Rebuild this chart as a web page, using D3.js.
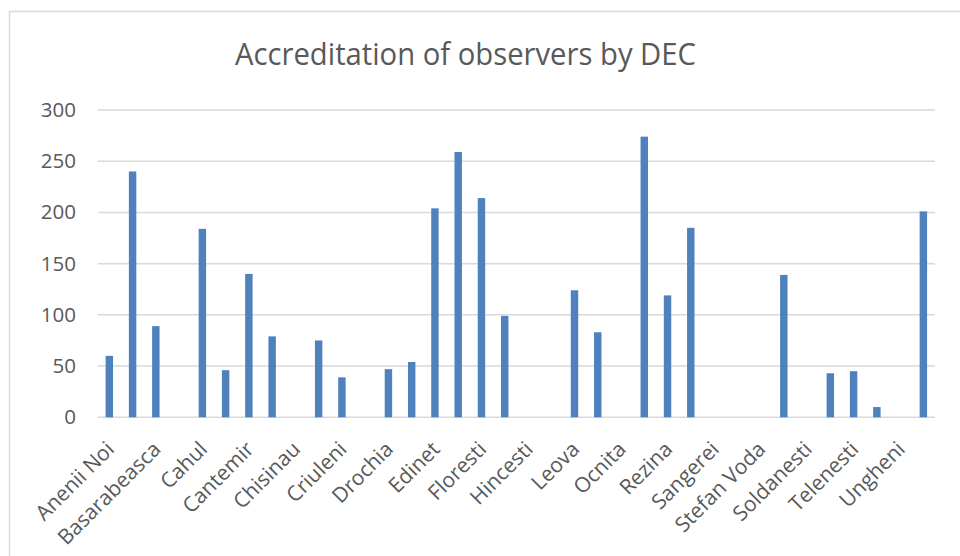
<!DOCTYPE html>
<html>
<head>
<meta charset="utf-8">
<script src="https://cdn.jsdelivr.net/npm/d3@7"></script>
<style>
  body { margin: 0; background: #fff; }
  svg { display: block; font-family: "Open Sans", "Noto Sans", sans-serif; }
</style>
</head>
<body>
<svg id="chart" width="960" height="556"></svg>
<script>

var districts = ["Anenii Noi", "Balti", "Basarabeasca", "Briceni", "Cahul", "Calarasi", "Cantemir", "Causeni",
                 "Chisinau", "Cimislia", "Criuleni", "Donduseni", "Drochia", "Dubasari", "Edinet", "Falesti",
                 "Floresti", "Glodeni", "Hincesti", "Ialoveni", "Leova", "Nisporeni", "Ocnita", "Orhei",
                 "Rezina", "Riscani", "Sangerei", "Soroca", "Stefan Voda", "Straseni", "Soldanesti", "Taraclia",
                 "Telenesti", "Tighina", "Ungheni", "UTA Gagauzia"]

var observers = [60, 240, 89, 0, 184, 46, 140, 79,
                 0, 75, 39, 0, 47, 54, 204, 259,
                 214, 99, 0, 0, 124, 83, 0, 274,
                 119, 185, 0, 0, 0, 139, 0, 43,
                 45, 10, 0, 201]

var yTicks = [0, 50, 100, 150, 200, 250, 300]

// every second district gets a label, like the original
var shownLabels = districts.filter(function(d, i) { return i % 2 == 0 })

var svg = d3.select('#chart')

// outer chart frame (runs off the window on the right and bottom)
svg.append("rect")
        .attr("x", 9.5)
        .attr("y", 11.5)
        .attr("width", 980)
        .attr("height", 600)
        .attr("fill", "#fff")
        .attr("stroke", "#d9d9d9")
        .attr("stroke-width", 1.5)

svg.append("text")
        .attr("x", 465.5)
        .attr("y", 65)
        .attr("text-anchor", "middle")
        .attr("font-size", "31px")
        .attr("fill", "#595959")
        .attr("textLength", 461)
        .attr("lengthAdjust", "spacingAndGlyphs")
        .text("Accreditation of observers by DEC")

var x = d3.scaleBand()
        .domain(districts)
        .range([97.7, 935])
        .paddingInner(0.68)
        .paddingOuter(0.34)

var y = d3.scaleLinear()
        .domain([0, 300])
        .range([417.3, 110])

var grid = svg.append("g")

grid.selectAll("line")
        .data(yTicks)
        .enter().append("line")
        .attr("x1", 97.7)
        .attr("x2", 935)
        .attr("y1", function(d) { return y(d) })
        .attr("y2", function(d) { return y(d) })
        .attr("stroke", "#d9d9d9")
        .attr("stroke-width", 1.5)

var yAxis = svg.append("g")
        .attr("transform", "translate(76, 0)")
        .call(d3.axisLeft(y).tickValues(yTicks).tickSize(0).tickPadding(0))

yAxis.select(".domain").remove()
yAxis.selectAll("text")
        .attr("font-size", "20.5px")
        .attr("font-family", "Open Sans")
        .attr("fill", "#595959")

svg.append("g")
        .selectAll("rect")
        .data(observers)
        .enter().append("rect")
        .attr("x", function(d, i) { return x(districts[i]) })
        .attr("width", x.bandwidth())
        .attr("y", function(d) { return y(d) })
        .attr("height", function(d) { return y(0) - y(d) })
        .attr("fill", "#4f81bd")

var xAxis = svg.append("g")
        .attr("transform", "translate(0, 417.3)")
        .call(d3.axisBottom(x).tickValues(shownLabels).tickSize(0).tickPadding(0))

xAxis.select(".domain").remove()
xAxis.selectAll("text")
        .attr("font-size", "21px")
        .attr("font-family", "Open Sans")
        .attr("fill", "#595959")
        .attr("text-anchor", "end")
        .attr("dy", "0.35em")
        .attr("transform", "translate(1, 28) rotate(-45)")

</script>
</body>
</html>
